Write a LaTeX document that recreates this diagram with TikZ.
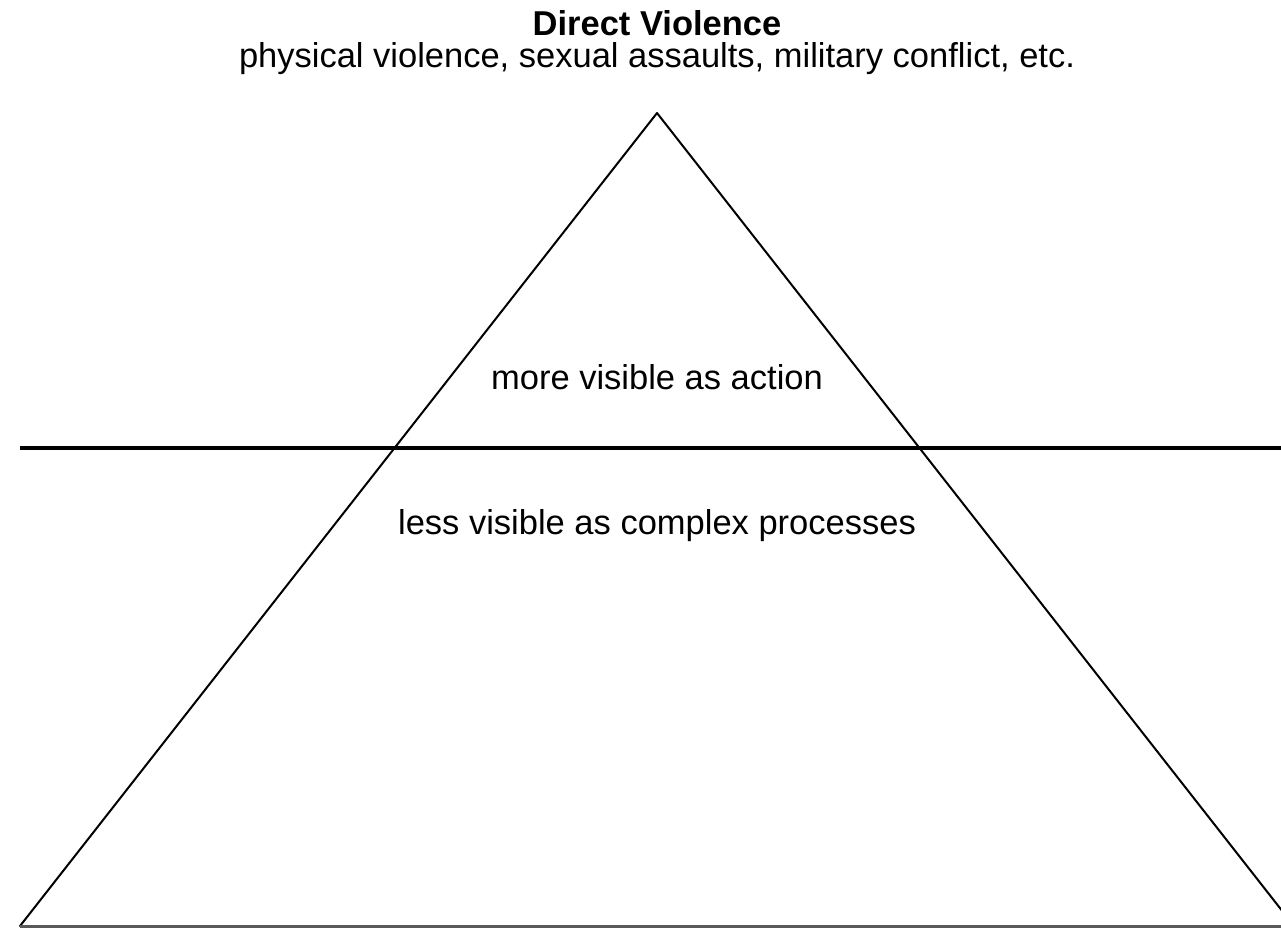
\documentclass[tikz,border=0pt]{standalone}
\usepackage{fontspec}
\setmainfont{Liberation Sans}
\usetikzlibrary{calc}

\begin{document}
\begin{tikzpicture}[line cap=round,line join=round,x=1pt,y=-1pt,
  lbl/.style={anchor=base,inner sep=0pt,font=\fontsize{34.5}{41}\selectfont}]
\useasboundingbox (0,0) rectangle (1281,929);
\clip (0,0) rectangle (1281,929);
\coordinate (apex) at (657,113);
\coordinate (baseL) at (20,926);
\coordinate (baseR) at (1294,926);
\coordinate (lineL) at (20,448);
\coordinate (lineR) at (1290,448);
\draw [line width=2pt] (baseL) -- (apex) -- (baseR);
\draw [line width=3pt,color=black!65,line cap=butt] (baseL) -- (baseR);
\draw [line width=4pt,line cap=butt] (lineL) -- (lineR);

\node[lbl,font=\fontsize{34.5}{41}\selectfont\bfseries] (title) at (657,35) {Direct Violence};
\node[lbl] (forms) at (657,67) {physical violence, sexual assaults, military conflict, etc.};
\node[lbl] (more) at (657,389) {more visible as action};
\node[lbl] (less) at (657,534) {less visible as complex processes};
\end{tikzpicture}
\end{document}
